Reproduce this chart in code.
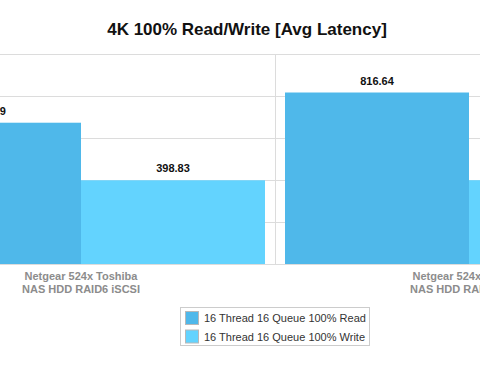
<!DOCTYPE html>
<html>
<head>
<meta charset="utf-8">
<script src="https://cdn.jsdelivr.net/npm/d3@7"></script>
<style>
  body { margin: 0; background: #fff; }
  svg { display: block; font-family: "Liberation Sans", Arial, sans-serif; }
</style>
</head>
<body>
<div id="chart"></div>
<script>
;(function() {
  // data
  var categories = [
    ['Netgear 524x Toshiba', 'NAS HDD RAID6 iSCSI'],
    ['Netgear 524x Toshiba', 'NAS HDD RAID5 iSCSI']
  ]
  var series = ['16 Thread 16 Queue 100% Read', '16 Thread 16 Queue 100% Write']
  var readValues = [672.79, 816.64]
  var writeValues = [398.83, 399.12]
  var yTicks = [0, 200, 400, 600, 800, 1000]

  var width = 480
  var height = 370
  var plotTop = 54
  var plotBottom = 264

  var color = d3
    .scaleOrdinal()
    .domain(series)
    .range(['#4fb8ea', '#63d3fe'])

  var svg = d3
    .select('#chart')
    .append('svg')
    .attr('width', width)
    .attr('height', height)
    .style('overflow', 'hidden')

  // the visible window only shows part of the plot, so the band range runs off both edges
  var xPositionScale = d3
    .scaleBand()
    .domain(d3.range(categories.length))
    .range([-113, 663])
    .paddingInner(0)

  var xSubScale = d3
    .scaleBand()
    .domain(series)
    .range([10, xPositionScale.bandwidth() - 10])

  var yPositionScale = d3
    .scaleLinear()
    .domain([0, 1000])
    .range([plotBottom, plotTop])

  // horizontal grid
  svg
    .selectAll('.hgrid')
    .data(yTicks)
    .enter()
    .append('line')
    .attr('class', 'hgrid')
    .attr('x1', 0)
    .attr('x2', width)
    .attr('y1', d => Math.round(yPositionScale(d)) + 0.5)
    .attr('y2', d => Math.round(yPositionScale(d)) + 0.5)
    .attr('stroke', '#dcdcdc')
    .attr('stroke-width', 1)

  // vertical grid at category boundaries
  svg
    .selectAll('.vgrid')
    .data(d3.range(categories.length + 1))
    .enter()
    .append('line')
    .attr('class', 'vgrid')
    .attr('x1', d => xPositionScale.range()[0] + d * xPositionScale.step() + 0.5)
    .attr('x2', d => xPositionScale.range()[0] + d * xPositionScale.step() + 0.5)
    .attr('y1', plotTop)
    .attr('y2', plotBottom)
    .attr('stroke', '#dcdcdc')
    .attr('stroke-width', 1)

  var rows = categories.map(function(c, i) {
    return [
      { cat: i, key: series[0], value: readValues[i] },
      { cat: i, key: series[1], value: writeValues[i] }
    ]
  })
  var flat = d3.merge(rows)

  svg
    .selectAll('.bar')
    .data(flat)
    .enter()
    .append('rect')
    .attr('class', 'bar')
    .attr('x', d => xPositionScale(d.cat) + xSubScale(d.key))
    .attr('width', xSubScale.bandwidth())
    .attr('y', d => yPositionScale(d.value))
    .attr('height', d => plotBottom - yPositionScale(d.value))
    .attr('fill', d => color(d.key))

  svg
    .selectAll('.value')
    .data(flat)
    .enter()
    .append('text')
    .attr('class', 'value')
    .attr('x', d => xPositionScale(d.cat) + xSubScale(d.key) + xSubScale.bandwidth() / 2)
    .attr('y', d => yPositionScale(d.value) - 8)
    .attr('text-anchor', 'middle')
    .attr('font-size', 11)
    .attr('font-weight', 'bold')
    .attr('fill', '#111')
    .text(d => d.value.toFixed(2))

  // category labels
  var catLabels = svg
    .selectAll('.cat')
    .data(categories)
    .enter()
    .append('text')
    .attr('class', 'cat')
    .attr('text-anchor', 'middle')
    .attr('font-size', 11)
    .attr('font-weight', 'bold')
    .attr('fill', '#8c8c8c')

  catLabels
    .selectAll('tspan')
    .data((d, i) => d.map(line => ({ line: line, i: i })))
    .enter()
    .append('tspan')
    .attr('x', d => xPositionScale(d.i) + xPositionScale.bandwidth() / 2)
    .attr('y', (d, j) => 280 + j * 12.5)
    .text(d => d.line)

  // title
  svg
    .append('text')
    .attr('x', 247)
    .attr('y', 35)
    .attr('text-anchor', 'middle')
    .attr('font-size', 17)
    .attr('font-weight', 'bold')
    .attr('fill', '#111')
    .text('4K 100% Read/Write [Avg Latency]')

  // legend
  var legend = svg.append('g').attr('transform', 'translate(180,307)')

  legend
    .append('rect')
    .attr('x', 0.5)
    .attr('y', 0.5)
    .attr('width', 189)
    .attr('height', 38)
    .attr('fill', '#fff')
    .attr('stroke', '#cccccc')

  var item = legend
    .selectAll('.item')
    .data(series)
    .enter()
    .append('g')
    .attr('class', 'item')
    .attr('transform', (d, i) => 'translate(5,' + (4 + i * 18.5) + ')')

  item
    .append('rect')
    .attr('x', 0.5)
    .attr('y', 0.5)
    .attr('width', 13)
    .attr('height', 13)
    .attr('fill', d => color(d))
    .attr('stroke', '#b8b8b8')

  item
    .append('text')
    .attr('x', 19)
    .attr('y', 11)
    .attr('font-size', 11)
    .attr('fill', '#333')
    .text(d => d)
})()
</script>
</body>
</html>
